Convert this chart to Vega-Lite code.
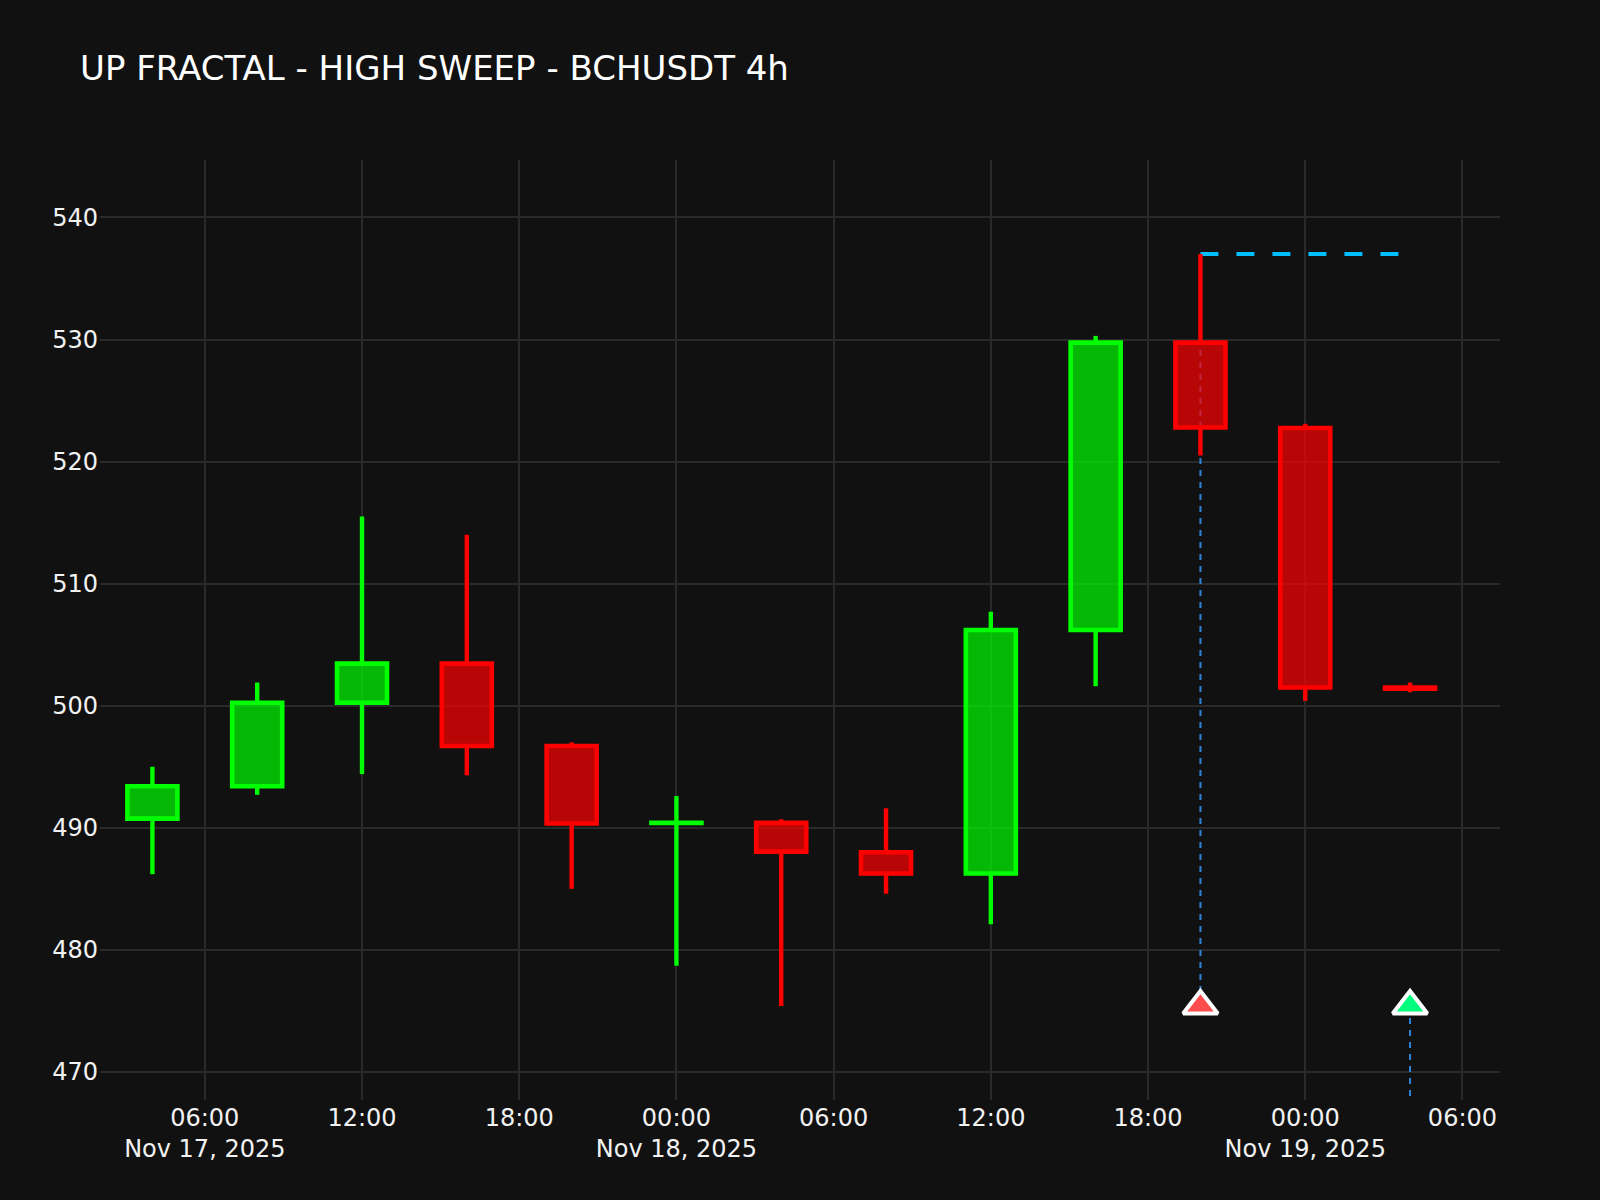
{
  "$schema": "https://vega.github.io/schema/vega-lite/v6.json",
  "description": "BCHUSDT 4h candles with the up fractal high sweep marked",
  "width": 1400,
  "height": 940,
  "autosize": {"type": "none"},
  "padding": {"left": 100, "top": 160, "right": 100, "bottom": 100},
  "background": "#111111",
  "title": {
    "text": "UP FRACTAL - HIGH SWEEP - BCHUSDT 4h",
    "anchor": "start",
    "frame": "group",
    "dx": -20,
    "offset": 73,
    "font": "DejaVu Sans",
    "fontSize": 34,
    "fontWeight": "normal",
    "color": "#ffffff"
  },
  "config": {
    "view": {"stroke": null},
    "axis": {
      "domain": false,
      "ticks": false,
      "grid": true,
      "gridColor": "#2a2a2a",
      "gridWidth": 2,
      "translate": 0,
      "labelFont": "DejaVu Sans",
      "labelFontSize": 24,
      "labelColor": "#f2f2f2",
      "title": null
    }
  },
  "datasets": {
    "candles": [
      {"time": "2025-11-17T04:00:00Z", "top": 493.4, "bottom": 490.75, "high": 495.0, "low": 486.2, "dir": "up"},
      {"time": "2025-11-17T08:00:00Z", "top": 500.25, "bottom": 493.4, "high": 501.9, "low": 492.7, "dir": "up"},
      {"time": "2025-11-17T12:00:00Z", "top": 503.45, "bottom": 500.25, "high": 515.5, "low": 494.4, "dir": "up"},
      {"time": "2025-11-17T16:00:00Z", "top": 503.45, "bottom": 496.7, "high": 514.0, "low": 494.3, "dir": "down"},
      {"time": "2025-11-17T20:00:00Z", "top": 496.7, "bottom": 490.35, "high": 497.0, "low": 485.0, "dir": "down"},
      {"time": "2025-11-18T00:00:00Z", "top": 490.4, "bottom": 490.39, "high": 492.6, "low": 478.7, "dir": "up"},
      {"time": "2025-11-18T04:00:00Z", "top": 490.4, "bottom": 488.05, "high": 490.7, "low": 475.4, "dir": "down"},
      {"time": "2025-11-18T08:00:00Z", "top": 488.0, "bottom": 486.25, "high": 491.6, "low": 484.6, "dir": "down"},
      {"time": "2025-11-18T12:00:00Z", "top": 506.2, "bottom": 486.25, "high": 507.7, "low": 482.1, "dir": "up"},
      {"time": "2025-11-18T16:00:00Z", "top": 529.75, "bottom": 506.2, "high": 530.3, "low": 501.6, "dir": "up"},
      {"time": "2025-11-18T20:00:00Z", "top": 529.75, "bottom": 522.8, "high": 537.0, "low": 520.5, "dir": "down"},
      {"time": "2025-11-19T00:00:00Z", "top": 522.75, "bottom": 501.5, "high": 523.1, "low": 500.4, "dir": "down"},
      {"time": "2025-11-19T04:00:00Z", "top": 501.5, "bottom": 501.4, "high": 501.9, "low": 501.1, "dir": "down"}
    ],
    "signals": [
      {"time": "2025-11-18T20:00:00Z", "from": 537.0, "to": 475.4, "color": "#ff4d4d"},
      {"time": "2025-11-19T04:00:00Z", "from": 475.4, "to": 467.7, "color": "#00ff7f"}
    ],
    "sweep": [
      {"start": "2025-11-18T20:00:00Z", "end": "2025-11-19T04:00:00Z", "level": 537.0}
    ]
  },
  "encoding": {
    "x": {
      "field": "time",
      "type": "temporal",
      "scale": {"type": "utc", "domain": [1763344800000, 1763537160000], "padding": 0},
      "axis": {
        "values": [1763359200000, 1763380800000, 1763402400000, 1763424000000, 1763445600000, 1763467200000, 1763488800000, 1763510400000, 1763532000000],
        "labelPadding": 7,
        "labelLineHeight": 31,
        "labelExpr": "utchours(datum.value) == 0 || +datum.value == 1763359200000 ? [utcFormat(datum.value, '%H:%M'), utcFormat(datum.value, '%b %-d, %Y')] : utcFormat(datum.value, '%H:%M')"
      }
    }
  },
  "layer": [
    {
      "data": {"name": "signals"},
      "mark": {"type": "rule", "color": "#2f86d8", "strokeWidth": 2, "strokeDash": [6, 6], "clip": true},
      "encoding": {
        "y": {
          "field": "from",
          "type": "quantitative",
          "scale": {"domain": [467.7, 544.71], "nice": false, "zero": false},
          "axis": {"values": [470, 480, 490, 500, 510, 520, 530, 540], "labelPadding": 2, "labelOffset": 1.5}
        },
        "y2": {"field": "to"}
      }
    },
    {
      "data": {"name": "sweep"},
      "mark": {"type": "rule", "color": "#00bfff", "strokeWidth": 4, "strokeDash": [18, 18]},
      "encoding": {
        "x": {"field": "start", "type": "temporal"},
        "x2": {"field": "end"},
        "y": {"field": "level", "type": "quantitative"}
      }
    },
    {
      "data": {"name": "candles"},
      "mark": {"type": "rule", "strokeWidth": 4.4},
      "encoding": {
        "y": {"field": "top", "type": "quantitative"},
        "y2": {"field": "high"},
        "color": {"field": "dir", "type": "nominal", "scale": {"domain": ["up", "down"], "range": ["#00ff00", "#ff0000"]}, "legend": null}
      }
    },
    {
      "data": {"name": "candles"},
      "mark": {"type": "rule", "strokeWidth": 4.4},
      "encoding": {
        "y": {"field": "low", "type": "quantitative"},
        "y2": {"field": "bottom"},
        "color": {"field": "dir", "type": "nominal", "legend": null}
      }
    },
    {
      "data": {"name": "candles"},
      "mark": {"type": "bar", "size": 50, "fillOpacity": 0.7, "strokeWidth": 4.6, "strokeOpacity": 1},
      "encoding": {
        "y": {"field": "top", "type": "quantitative"},
        "y2": {"field": "bottom"},
        "fill": {"field": "dir", "type": "nominal", "scale": {"domain": ["up", "down"], "range": ["#00ff00", "#ff0000"]}, "legend": null},
        "stroke": {"field": "dir", "type": "nominal", "scale": {"domain": ["up", "down"], "range": ["#00ff00", "#ff0000"]}, "legend": null}
      }
    },
    {
      "data": {"name": "signals"},
      "transform": [{"filter": "datum.color == '#ff4d4d'"}],
      "mark": {"type": "point", "shape": "M-1.155,0.5L1.155,0.5L0,-1Z", "size": 900, "filled": true, "fill": "#ff4d4d", "opacity": 1, "stroke": "#ffffff", "strokeWidth": 4, "strokeMiterLimit": 2},
      "encoding": {"y": {"field": "to", "type": "quantitative"}}
    },
    {
      "data": {"name": "signals"},
      "transform": [{"filter": "datum.color == '#00ff7f'"}],
      "mark": {"type": "point", "shape": "M-1.155,0.5L1.155,0.5L0,-1Z", "size": 900, "filled": true, "fill": "#00ff7f", "opacity": 1, "stroke": "#ffffff", "strokeWidth": 4, "strokeMiterLimit": 2},
      "encoding": {"y": {"field": "from", "type": "quantitative"}}
    }
  ]
}
